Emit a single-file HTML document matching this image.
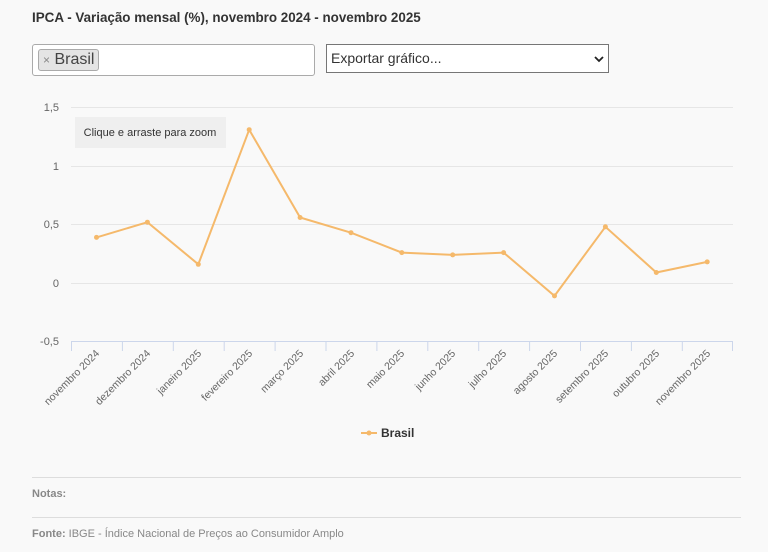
<!DOCTYPE html>
<html><head><meta charset="utf-8"><style>
body{margin:0;width:768px;height:552px;background:#f9f9f9;font-family:"Liberation Sans",sans-serif;overflow:hidden;position:relative}
.t{position:absolute;left:32px;top:10px;font-size:13.4px;font-weight:bold;color:#333}
.sel{position:absolute;left:32px;top:44px;width:281px;height:30px;border:1px solid #aaa;border-radius:3px;background:#fff}
.tag{position:absolute;left:5px;top:4px;height:20px;padding:0 4px;border:1px solid #aaa;border-radius:3px;background:#e4e4e4;font-size:16px;line-height:20px;color:#444}
.tag span{font-size:12px;color:#888}
.exp{position:absolute;left:326px;top:44px;width:277px;height:27px;border:1px solid #767676;background:#fff;font-size:14px;line-height:27px;color:#333;padding-left:4px;box-sizing:content-box}
.hr{position:absolute;left:32px;width:709px;height:1px;background:#ddd}
.n{position:absolute;left:32px;font-size:11px;color:#888}
</style></head><body>
<div class="t">IPCA - Variação mensal (%), novembro 2024 - novembro 2025</div>
<div class="sel"><div class="tag"><span>×</span> Brasil</div></div>
<div class="exp">Exportar gráfico...<svg style="position:absolute;right:4px;top:10px" width="10" height="8"><path d="M1 2 L5 6 L9 2" stroke="#222" stroke-width="1.8" fill="none"/></svg></div>
<svg style="position:absolute;left:0;top:0" width="768" height="552" font-family="Liberation Sans, sans-serif">
<g stroke="#e6e6e6" stroke-width="1">
<line x1="71" x2="733" y1="107.5" y2="107.5"/><line x1="71" x2="733" y1="166.5" y2="166.5"/><line x1="71" x2="733" y1="224.5" y2="224.5"/><line x1="71" x2="733" y1="283.5" y2="283.5"/></g>
<g stroke="#ccd6eb"><line x1="71" x2="733" y1="341.5" y2="341.5"/>
<path d="M71.5 341v10M122.4 341v10M173.3 341v10M224.2 341v10M275.1 341v10M326 341v10M376.9 341v10M427.8 341v10M478.7 341v10M529.6 341v10M580.5 341v10M631.4 341v10M682.3 341v10M732.5 341v10"/></g>
<g font-size="11" fill="#666" text-anchor="end">
<text x="59" y="111">1,5</text><text x="59" y="170">1</text><text x="59" y="228">0,5</text><text x="59" y="287">0</text><text x="59" y="345">-0,5</text></g>
<rect x="75" y="117" width="151" height="31" fill="#efefef"/>
<text x="150" y="136" font-size="11" fill="#333" text-anchor="middle">Clique e arraste para zoom</text>
<polyline fill="none" stroke="#f5b96b" stroke-width="2" points="96.5,237.4 147.4,222.2 198.3,264.3 249.2,129.7 300.1,217.5 351,232.7 401.8,252.6 452.7,254.9 503.6,252.6 554.5,295.9 605.4,226.8 656.3,272.5 707.2,261.9"/>
<g fill="#f5b96b"><circle cx="96.5" cy="237.4" r="2.5"/><circle cx="147.4" cy="222.2" r="2.5"/><circle cx="198.3" cy="264.3" r="2.5"/><circle cx="249.2" cy="129.7" r="2.5"/><circle cx="300.1" cy="217.5" r="2.5"/><circle cx="351" cy="232.7" r="2.5"/><circle cx="401.8" cy="252.6" r="2.5"/><circle cx="452.7" cy="254.9" r="2.5"/><circle cx="503.6" cy="252.6" r="2.5"/><circle cx="554.5" cy="295.9" r="2.5"/><circle cx="605.4" cy="226.8" r="2.5"/><circle cx="656.3" cy="272.5" r="2.5"/><circle cx="707.2" cy="261.9" r="2.5"/></g>
<g font-size="10.5" fill="#666" text-anchor="end">
<text transform="translate(100,354) rotate(-45)">novembro 2024</text>
<text transform="translate(151,354) rotate(-45)">dezembro 2024</text>
<text transform="translate(202,354) rotate(-45)">janeiro 2025</text>
<text transform="translate(253,354) rotate(-45)">fevereiro 2025</text>
<text transform="translate(304,354) rotate(-45)">março 2025</text>
<text transform="translate(355,354) rotate(-45)">abril 2025</text>
<text transform="translate(405,354) rotate(-45)">maio 2025</text>
<text transform="translate(456,354) rotate(-45)">junho 2025</text>
<text transform="translate(507,354) rotate(-45)">julho 2025</text>
<text transform="translate(558,354) rotate(-45)">agosto 2025</text>
<text transform="translate(609,354) rotate(-45)">setembro 2025</text>
<text transform="translate(660,354) rotate(-45)">outubro 2025</text>
<text transform="translate(711,354) rotate(-45)">novembro 2025</text></g>
<line x1="361" x2="377" y1="433" y2="433" stroke="#f5b96b" stroke-width="2"/><circle cx="369" cy="433" r="2.5" fill="#f5b96b"/>
<text x="381" y="437" font-size="12" font-weight="bold" fill="#333">Brasil</text>
</svg>
<div class="hr" style="top:477px"></div>
<div class="n" style="top:488px;font-weight:bold">Notas:</div>
<div class="hr" style="top:517px"></div>
<div class="n" style="top:528px"><b>Fonte:</b> IBGE - Índice Nacional de Preços ao Consumidor Amplo</div>
</body></html>
